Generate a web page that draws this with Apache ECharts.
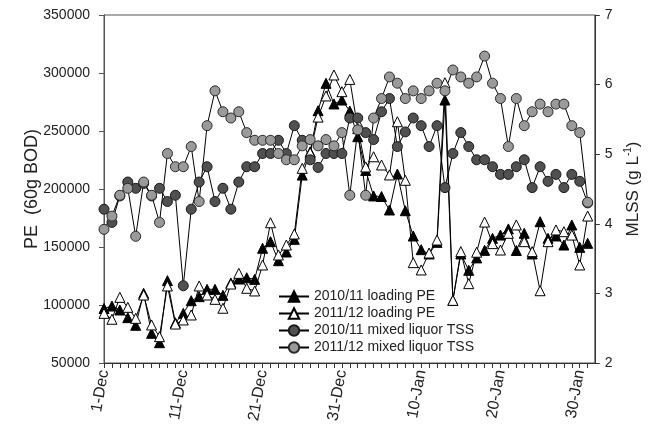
<!DOCTYPE html>
<html>
<head>
<meta charset="utf-8">
<script src="https://cdn.jsdelivr.net/npm/echarts@6/dist/echarts.min.js"></script>
<style>
  html, body { margin: 0; padding: 0; background: #fff; }
  #chart { width: 650px; height: 431px; }
</style>
</head>
<body>
<div id="chart"></div>
<script>
// Daily observations starting 1 December (day 0); labelled every 10 days.
const xTickLabels = ['1-Dec', '11-Dec', '21-Dec', '31-Dec', '10-Jan', '20-Jan', '30-Jan'];
const xLabelStep = 10;

const seriesNames = [
  '2010/11 loading PE',
  '2011/12 loading PE',
  '2010/11 mixed liquor TSS',
  '2011/12 mixed liquor TSS'
];

// Population equivalent load (60 g BOD per PE)
const pe1011 = [
  97000, 99100, 95700, 89100, 82500, 110100, 75600, 67500, 121000, 84700,
  92800, 103700, 107200, 113500, 113500, 108300, 119000, 122400, 123500, 122100,
  148900, 154600, 138200, 145700, 156600, 212000, 232000, 267500, 291100, 273300,
  276700, 267200, 245100, 216000, 194000, 193500, 181900, 212900, 181300, 159500,
  147700, 144000, 154000, 276700, 104000, 144000, 129900, 140600, 147100, 157500,
  160300, 165600, 147000, 161800, 144000, 171800, 157500, 159500, 151700, 169000,
  149700, 153200
];
const pe1112 = [
  92800, 87700, 106600, 98000, 88500, 108600, 82800, 72700, 116400, 83600,
  87100, 91400, 116400, 108600, 104900, 97200, 118100, 127300, 114400, 112100,
  134500, 170900, 143100, 151700, 161200, 217800, 231300, 262000, 280200, 298300,
  283900, 294500, 252000, 219000, 227800, 220700, 212100, 258000, 207500, 136500,
  130200, 144800, 156000, 291600, 104000, 146000, 118400, 145500, 171500, 152900,
  147400, 161800, 169000, 154600, 146000, 112300, 154600, 164700, 163200, 160300,
  134500, 176700
];

// Mixed liquor suspended solids (g/L)
const mlss1011 = [
  4.21, 4.02, 4.40, 4.60, 4.51, 4.58, 4.40, 4.51, 4.32, 4.41,
  3.11, 4.21, 4.60, 4.82, 4.32, 4.51, 4.21, 4.60, 4.82, 4.82,
  5.01, 5.01, 5.20, 5.01, 5.41, 5.20, 4.92, 4.81, 5.01, 5.01,
  5.01, 5.52, 5.52, 5.31, 5.21, 5.61, 5.80, 5.11, 5.32, 5.52,
  5.41, 5.11, 5.41, 4.52, 5.01, 5.31, 5.11, 4.92, 4.92, 4.82,
  4.71, 4.71, 4.82, 4.92, 4.52, 4.82, 4.61, 4.71, 4.52, 4.71,
  4.61, 4.30
];
const mlss1112 = [
  3.92, 4.11, 4.41, 4.51, 3.82, 4.60, 4.41, 4.02, 5.01, 4.82,
  4.82, 5.11, 4.32, 5.41, 5.91, 5.61, 5.52, 5.61, 5.31, 5.20,
  5.20, 5.20, 5.01, 4.92, 4.92, 5.12, 5.21, 5.12, 5.21, 5.12,
  5.31, 4.41, 5.35, 4.41, 5.52, 5.80, 6.11, 6.02, 5.80, 5.91,
  5.80, 5.91, 6.02, 5.91, 6.21, 6.11, 6.02, 6.11, 6.41, 6.02,
  5.80, 5.11, 5.80, 5.41, 5.61, 5.72, 5.61, 5.72, 5.72, 5.41,
  5.31, 4.31
];

const toPairs = arr => arr.map((v, i) => [i, v]);
const font = 'Liberation Sans, Arial, sans-serif';

const lineBase = (name, data, yAxisIndex, symbol, fill, stroke) => ({
  name: name,
  type: 'line',
  yAxisIndex: yAxisIndex,
  data: toPairs(data),
  symbol: symbol,
  symbolSize: 10,
  showAllSymbol: true,
  animation: false,
  lineStyle: { color: '#000', width: 1 },
  itemStyle: { color: fill, borderColor: stroke, borderWidth: 1, opacity: 1 },
  emphasis: { disabled: true }
});

const chart = echarts.init(document.getElementById('chart'), null, { renderer: 'canvas' });

chart.setOption({
  backgroundColor: '#fff',
  animation: false,
  textStyle: { fontFamily: font, color: '#222' },
  grid: {
    left: 104, right: 51, top: 15, bottom: 68,
    show: true, borderColor: '#555', borderWidth: 1, backgroundColor: 'transparent'
  },
  legend: {
    orient: 'vertical',
    left: 273,
    top: 284,
    itemWidth: 30,
    itemHeight: 13,
    itemGap: 2,
    data: seriesNames,
    textStyle: { fontFamily: font, fontSize: 14, color: '#222', lineHeight: 15 }
  },
  xAxis: {
    type: 'value',
    min: 0,
    max: 61.9,
    interval: 1,
    splitLine: { show: false },
    axisLine: { show: true, lineStyle: { color: '#333', width: 1 } },
    axisTick: { show: true, inside: false, length: 5, lineStyle: { color: '#333' } },
    axisLabel: {
      rotate: 80,
      margin: 7,
      fontSize: 16,
      color: '#222',
      fontFamily: font,
      showMaxLabel: false,
      formatter: v => {
        const r = Math.round(v);
        if (Math.abs(v - r) > 1e-6 || r % xLabelStep !== 0) return '';
        return xTickLabels[r / xLabelStep] || '';
      }
    }
  },
  yAxis: [
    {
      type: 'value',
      min: 50000,
      max: 350000,
      interval: 50000,
      position: 'left',
      name: 'PE  (60g BOD)',
      nameLocation: 'middle',
      nameGap: 63,
      nameMoveOverlap: false,
      nameTextStyle: { fontSize: 18, color: '#222', fontFamily: font },
      splitLine: { show: false },
      axisLine: { show: true, lineStyle: { color: '#555', width: 1 } },
      axisTick: { show: true, length: 5, lineStyle: { color: '#555' } },
      axisLabel: {
        fontSize: 14, color: '#222', margin: 14, fontFamily: font,
        formatter: v => String(v)
      }
    },
    {
      type: 'value',
      min: 2,
      max: 7,
      interval: 1,
      position: 'right',
      name: '{a|MLSS (g L}{s|-1}{a|)}',
      nameLocation: 'middle',
      nameGap: 22,
      nameTextStyle: {
        fontFamily: font,
        rich: {
          a: { fontSize: 17, color: '#222', fontFamily: font, lineHeight: 20 },
          s: { fontSize: 10, color: '#222', fontFamily: font, verticalAlign: 'top', lineHeight: 20, padding: [0, 0, 8, 0] }
        }
      },
      splitLine: { show: false },
      axisLine: { show: true, lineStyle: { color: '#333', width: 1 } },
      axisTick: { show: true, length: 5, lineStyle: { color: '#333' } },
      axisLabel: { fontSize: 14, color: '#222', margin: 10, fontFamily: font }
    }
  ],
  series: [
    lineBase(seriesNames[0], pe1011, 0, 'triangle', '#000', '#000'),
    lineBase(seriesNames[1], pe1112, 0, 'triangle', '#fff', '#000'),
    lineBase(seriesNames[2], mlss1011, 1, 'circle', '#505050', '#1a1a1a'),
    lineBase(seriesNames[3], mlss1112, 1, 'circle', '#9a9a9a', '#2a2a2a')
  ]
});
</script>
</body>
</html>
